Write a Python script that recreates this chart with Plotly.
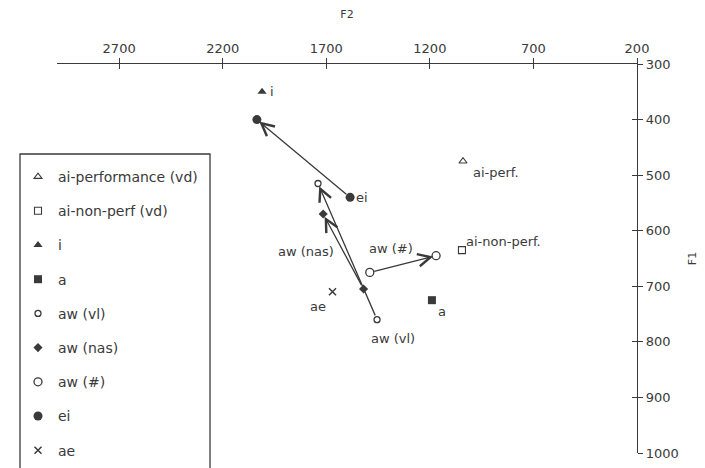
import plotly.graph_objects as go

INK = "#3a3a3a"
FONT = "DejaVu Sans"

# ---------------- data (F2, F1 in Hz) ----------------
f2_ticks = [2700, 2200, 1700, 1200, 700, 200]
f1_ticks = [300, 400, 500, 600, 700, 800, 900, 1000]

ai_perf_f2 = [1040]
ai_perf_f1 = [475]
ai_nonperf_f2 = [1045]
ai_nonperf_f1 = [635]
i_f2 = [2010]
i_f1 = [350]
a_f2 = [1190]
a_f1 = [725]
aw_vl_f2 = [1455, 1740]
aw_vl_f1 = [760, 515]
aw_nas_f2 = [1520, 1715]
aw_nas_f1 = [705, 570]
aw_hash_f2 = [1490, 1170]
aw_hash_f1 = [675, 645]
ei_f2 = [1585, 2035]
ei_f1 = [540, 400]
ae_f2 = [1670]
ae_f1 = [710]

legend_names = ["ai-performance (vd)", "ai-non-perf (vd)", "i", "a",
                "aw (vl)", "aw (nas)", "aw (#)", "ei", "ae"]
point_labels = ["ai-perf.", "ai-non-perf.", "i", "a",
                "aw (vl)", "aw (nas)", "aw (#)", "ei", "ae"]

series = [
    (ai_perf_f2, ai_perf_f1),
    (ai_nonperf_f2, ai_nonperf_f1),
    (i_f2, i_f1),
    (a_f2, a_f1),
    (aw_vl_f2, aw_vl_f1),
    (aw_nas_f2, aw_nas_f1),
    (aw_hash_f2, aw_hash_f1),
    (ei_f2, ei_f1),
    (ae_f2, ae_f1),
]

# ---------------- styles ----------------
marker_styles = [
    dict(symbol="triangle-up-open", size=7, line=dict(width=1.1, color=INK)),
    dict(symbol="square-open", size=7, line=dict(width=1.1, color=INK)),
    dict(symbol="triangle-up", size=8, line=dict(width=0)),
    dict(symbol="square", size=8, line=dict(width=0)),
    dict(symbol="circle-open", size=6, line=dict(width=1.3, color=INK)),
    dict(symbol="diamond", size=7, line=dict(width=0)),
    dict(symbol="circle-open", size=8, line=dict(width=1.3, color=INK)),
    dict(symbol="circle", size=9, line=dict(width=0)),
    dict(symbol="x-thin-open", size=7, line=dict(width=1.5, color=INK)),
]
# (series index, point index, xshift, yshift)
label_offsets = [
    (0, 0, 33, -11),
    (1, 0, 42, 9),
    (2, 0, 10, 0),
    (3, 0, 10, -11),
    (4, 0, 16, -19),
    (5, 0, -58, 38),
    (6, 0, 21, 24),
    (7, 0, 12, 0),
    (8, 0, -15, -15),
]
arrow_series = [7, 4, 5, 6]

fig = go.Figure()
for (xs, ys), name, ms in zip(series, legend_names, marker_styles):
    fig.add_trace(go.Scatter(
        x=xs, y=ys, mode="markers", name=name, legendgroup=name,
        marker=dict(color=INK, **ms), hoverinfo="x+y+name",
    ))

# dummy trace to make overlay axes (inner tick halves) render
fig.add_trace(go.Scatter(x=i_f2, y=i_f1, xaxis="x2", yaxis="y2", mode="markers",
                         marker=dict(opacity=0), showlegend=False, hoverinfo="skip"))

annotations = []
for si in arrow_series:
    xs, ys = series[si]
    annotations.append(dict(
        x=xs[1], y=ys[1], ax=xs[0], ay=ys[0], xref="x", yref="y",
        axref="x", ayref="y", showarrow=True, arrowhead=5, arrowsize=1.9,
        arrowwidth=1.3, arrowcolor=INK, standoff=3, startstandoff=3, text="",
    ))
for (si, pi, dx, dy), txt in zip(label_offsets, point_labels):
    xs, ys = series[si]
    annotations.append(dict(
        x=xs[pi], y=ys[pi], xref="x", yref="y", text=txt, showarrow=False,
        xshift=dx, yshift=dy, xanchor="center", yanchor="middle",
        font=dict(family=FONT, size=13, color=INK),
    ))

# page body adds an 8px offset; positions below are in screenshot pixels
OFF = 8
W, H = 705, 468
L, T = 57 - OFF, 64 - OFF
pw, ph = 580, 389
R, B = W - L - pw, H - T - ph


def px_x(p):
    return (p - OFF - L) / pw


def px_y(p):
    return (T + ph - (p - OFF)) / ph


fig.add_shape(type="rect", xref="paper", yref="paper",
              x0=px_x(20), x1=px_x(210), y0=px_y(480), y1=px_y(154),
              line=dict(color=INK, width=1.3), fillcolor="rgba(0,0,0,0)")

axis_common = dict(showgrid=False, zeroline=False, tickcolor=INK,
                   tickfont=dict(family=FONT, size=13, color=INK))

fig.update_layout(
    width=W, height=H,
    margin=dict(l=L, r=R, t=T, b=B, autoexpand=False),
    paper_bgcolor="white", plot_bgcolor="white",
    font=dict(family=FONT, size=12, color=INK),
    annotations=annotations,
    showlegend=True,
    legend=dict(x=px_x(18), y=px_y(161), xanchor="left", yanchor="top",
                bgcolor="rgba(0,0,0,0)", borderwidth=0,
                font=dict(family=FONT, size=14, color=INK),
                tracegroupgap=13, itemclick=False),
    xaxis=dict(range=[3000, 200], side="top", anchor="y", tickvals=f2_ticks,
               showline=True, linecolor=INK, linewidth=1.3, ticks="outside",
               ticklen=5, tickwidth=1.3,
               title=dict(text="F2", standoff=19, font=dict(family=FONT, size=11, color=INK)),
               **axis_common),
    yaxis=dict(range=[1000, 300], side="right", anchor="x", tickvals=f1_ticks,
               showline=True, linecolor=INK, linewidth=1.3, ticks="outside",
               ticklen=5, tickwidth=1.3,
               title=dict(text="F1", standoff=10, font=dict(family=FONT, size=11, color=INK)),
               **axis_common),
    xaxis2=dict(overlaying="x", matches="x", side="top", anchor="y2", tickvals=f2_ticks,
                ticks="inside", ticklen=5, tickwidth=1.3, showticklabels=False,
                showline=False, **axis_common),
    yaxis2=dict(overlaying="y", matches="y", side="right", anchor="x2", tickvals=f1_ticks,
                ticks="inside", ticklen=5, tickwidth=1.3, showticklabels=False,
                showline=False, **axis_common),
)

fig.write_html("out.html")
